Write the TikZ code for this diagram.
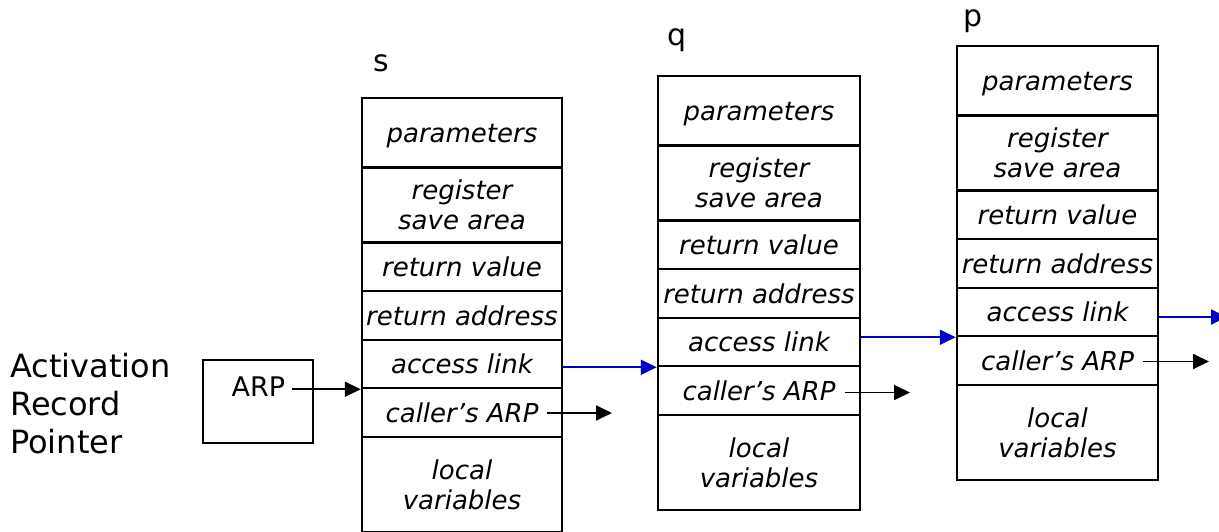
\documentclass[tikz,border=0pt]{standalone}
\usepackage{fontspec}
\setmainfont{DejaVu Sans}
\usetikzlibrary{arrows.meta}
\definecolor{linkblue}{RGB}{0,0,200}
\tikzset{
  cell/.style={draw, line width=2.5pt, inner sep=0pt, minimum width=#1, align=center,
    font=\fontsize{26}{30}\selectfont\itshape},
  lab/.style={inner sep=0pt, anchor=base west, font=\fontsize{30}{36}\selectfont},
  arr/.style={line width=1.8pt, -{Triangle[length=16pt,width=15pt]}},
  blarr/.style={arr, draw=linkblue, fill=linkblue},
  thinbox/.style={draw, line width=1.5pt, inner sep=0pt},
}
\newcommand\arstack[5]{%
  \node[cell=#3, minimum height=70, text depth=0pt] (#1par) at (#2,{133+(#4)}) {parameters};
  \node[cell=#3, minimum height=75] (#1reg) at (#2,{205+(#4)}) {register\\save area};
  \node[cell=#3, minimum height=49] (#1rv) at (#2,{266.5+(#4)}) {return value};
  \node[cell=#3, minimum height=49] (#1ra) at (#2,{315.5+(#4)}) {return address};
  \node[cell=#3, minimum height=48] (#1al) at (#2,{364+(#4)}) {access link};
  \node[cell=#3, minimum height=49] (#1ca) at (#2,{412.5+(#4)}) {caller’s ARP};
  \node[cell=#3, minimum height=#5] (#1lv) at (#2,{437+#5/2+(#4)}) {local\\variables};
}
\begin{document}
\begin{tikzpicture}[x=1pt,y=-1pt]
\useasboundingbox (0,0) rectangle (1219,532);
\clip (0,0) rectangle (1219,531);
\fill[white] (0,0) rectangle (1219,532);

% left caption
\node[inner sep=0pt, anchor=west, align=left, font=\fontsize{32}{38}\selectfont] (title) at (10,404) {Activation\\Record\\Pointer};

% ARP box
\node[thinbox, minimum width=110, minimum height=83] (arpbox) at (258,401.5) {};
\node[inner sep=0pt, inner xsep=7pt, font=\fontsize{27}{30}\selectfont] (arp) at (258.5,387) {ARP};

% stacks
\arstack{s}{462}{200}{0}{95}
\arstack{q}{759}{202}{-22}{95}
\arstack{p}{1057.5}{201}{-52}{95}

% labels
\node[lab] (slab) at (373,72) {s};
\node[lab] (qlab) at (667,46) {q};
\node[lab] (plab) at (963,27) {p};

% connectors
\draw[arr] (arp.east |- sal.south west) -- (sal.south west);

\draw[blarr] (qal.south west -| sal.east) -- (qal.south west);
\draw[blarr] (pal.south west -| qal.east) -- (pal.south west);
\coordinate (pout) at (1227,317);
\draw[blarr] (pal.east |- pout) -- (pout);

\coordinate (sout) at (612,413);
\coordinate (qout) at (910,392.5);
\coordinate (pcout) at (1209,361.5);
\draw[arr] (sca.east |- sout) ++(-16,0) -- (sout);
\draw[arr] (qca.east |- qout) ++(-16,0) -- (qout);
\draw[arr] (pca.east |- pcout) ++(-16,0) -- (pcout);
\end{tikzpicture}
\end{document}
